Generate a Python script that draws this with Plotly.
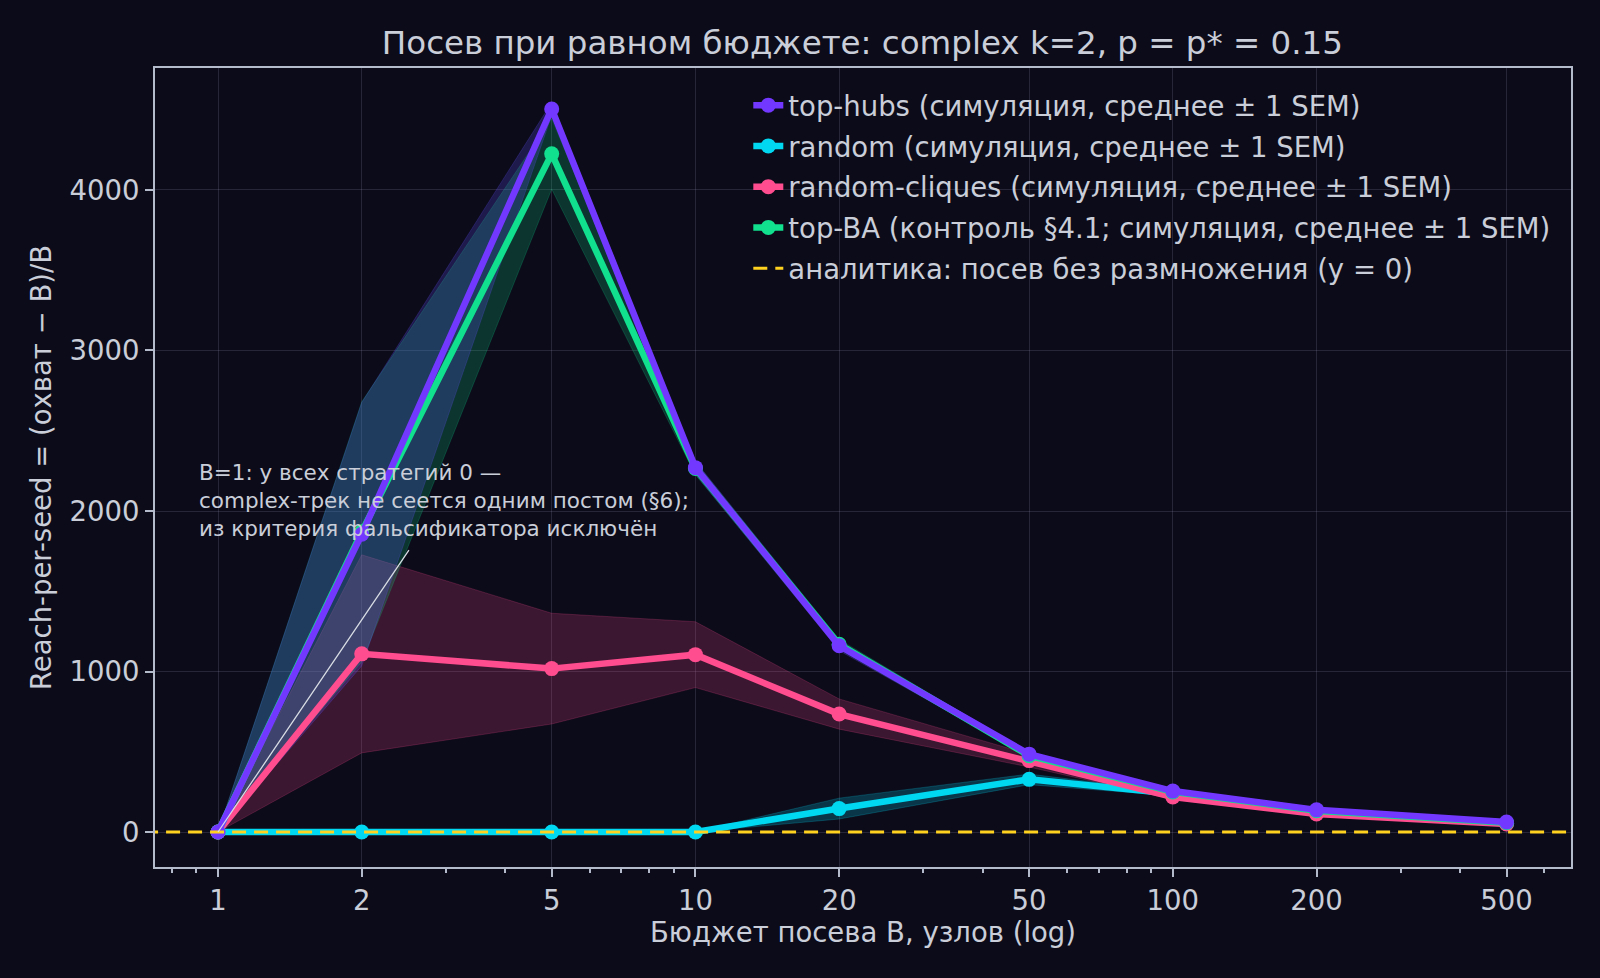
import plotly.graph_objects as go

# бюджет посева B
budget = [1, 2, 5, 10, 20, 50, 100, 200, 500]

# top-hubs
hubs_mean = [0, 1855, 4505, 2270, 1160, 485, 255, 138, 62]
hubs_sem = [0, 820, 40, 40, 30, 15, 10, 6, 3]
# random
rand_mean = [0, 0, 0, 0, 146, 328, 238, 125, 55]
rand_sem = [0, 0, 0, 0, 65, 33, 12, 6, 3]
# random-cliques
cliq_mean = [0, 1110, 1018, 1105, 735, 445, 218, 112, 50]
cliq_sem = [0, 617, 345, 205, 94, 40, 15, 8, 4]
# top-BA
ba_mean = [0, 1870, 4225, 2265, 1170, 475, 250, 133, 58]
ba_sem = [0, 810, 220, 40, 30, 15, 10, 6, 3]

x_major = [1, 2, 5, 10, 20, 50, 100, 200, 500]
x_minor = [0.8, 0.9, 3, 4, 6, 7, 8, 9, 30, 40, 60, 70, 80, 90, 300, 400, 600]
y_ticks = [0, 1000, 2000, 3000, 4000]

BG = "#0c0b1a"
AX = "#b4bccb"
TXT = "#c9ced8"
FONT = "DejaVu Sans"

series = [
    # name, mean, sem, color, fill, legend rank
    ("random (симуляция, среднее ± 1 SEM)", rand_mean, rand_sem, "#00d8f2", "rgba(0,216,242,0.22)", 2),
    ("random-cliques (симуляция, среднее ± 1 SEM)", cliq_mean, cliq_sem, "#ff4d8f", "rgba(255,77,143,0.2)", 3),
    ("top-BA (контроль §4.1; симуляция, среднее ± 1 SEM)", ba_mean, ba_sem, "#11e08e", "rgba(17,224,142,0.2)", 4),
    ("top-hubs (симуляция, среднее ± 1 SEM)", hubs_mean, hubs_sem, "#7338ff", "rgba(100,80,255,0.22)", 1),
]

fig = go.Figure()

# полосы ± 1 SEM
for name, m, s, col, fillcol, rank in series:
    upper = [a + b for a, b in zip(m, s)]
    lower = [a - b for a, b in zip(m, s)]
    fig.add_trace(go.Scatter(
        x=budget + budget[::-1], y=upper + lower[::-1],
        fill="toself", fillcolor=fillcol, line=dict(color=fillcol, width=1),
        mode="lines", showlegend=False, hoverinfo="skip",
    ))

# средние
for name, m, s, col, fillcol, rank in series:
    fig.add_trace(go.Scatter(
        x=budget, y=m, name=name, mode="lines+markers",
        line=dict(color=col, width=6.5), marker=dict(color=col, size=15),
        legendrank=rank, legendgroup=name,
    ))

fig.add_trace(go.Scatter(
    x=[0.7, 700], y=[0, 0], mode="lines",
    name="аналитика: посев без размножения (y = 0)",
    line=dict(color="#ffd21f", width=3, dash="14px,8px"),
    legendrank=5, legendgroup="analytic",
))

# подпись про B=1
fig.add_annotation(
    x=-0.044, y=2330, xref="x", yref="y", xanchor="left", yanchor="top",
    text="B=1: у всех стратегий 0 —<br>complex-трек не сеется одним постом (§6);<br>из критерия фальсификатора исключён",
    showarrow=False, align="left", font=dict(size=21.5, color=TXT, family=FONT),
)
fig.add_annotation(
    x=0, y=0, xref="x", yref="y", axref="x", ayref="y",
    ax=0.402, ay=1765, text="", showarrow=True,
    arrowhead=0, arrowwidth=1.3, arrowcolor="#d8dce4",
)

fig.update_layout(
    width=1600, height=978,
    paper_bgcolor=BG, plot_bgcolor=BG,
    margin=dict(l=155, r=29, t=68, b=111),
    font=dict(family=FONT, color=TXT, size=27),
    title=dict(text="Посев при равном бюджете: complex k=2, p = p* = 0.15",
               x=0.539, xanchor="center", y=0.956, yanchor="middle",
               font=dict(size=32.5, color=TXT)),
    legend=dict(x=0.419, y=0.984, xanchor="left", yanchor="top",
                bgcolor="rgba(0,0,0,0)", font=dict(size=27.5, color=TXT),
                tracegroupgap=2),
    showlegend=True,
)

fig.update_xaxes(
    type="log", range=[-0.132, 2.834],
    tickvals=x_major, ticktext=[str(v) for v in x_major],
    ticks="outside", ticklen=8, tickcolor=AX, tickwidth=1.5,
    minor=dict(tickvals=x_minor, ticks="outside", ticklen=4, tickcolor=AX, showgrid=False),
    showline=True, linecolor=AX, linewidth=2, mirror=True,
    showgrid=True, gridcolor="rgba(150,150,180,0.2)", gridwidth=1,
    zeroline=False,
    title=dict(text="Бюджет посева B, узлов (log)", font=dict(size=27.5, color=TXT), standoff=7),
    tickfont=dict(size=27.5, color=TXT),
)
fig.update_yaxes(
    range=[-218, 4760], tickvals=y_ticks,
    ticks="outside", ticklen=8, tickcolor=AX, tickwidth=1.5,
    showline=True, linecolor=AX, linewidth=2, mirror=True,
    showgrid=True, gridcolor="rgba(150,150,180,0.2)", gridwidth=1,
    zeroline=False,
    title=dict(text="Reach-per-seed = (охват − B)/B", font=dict(size=27.5, color=TXT), standoff=10),
    tickfont=dict(size=27.5, color=TXT),
)

fig.write_html("out.html", config={"displayModeBar": False})

# убрать отступы страницы, чтобы картинка легла ровно в окно
with open("out.html", encoding="utf-8") as f:
    page = f.read()
page = page.replace("<body>", '<body style="margin:0;background:%s;overflow:hidden">' % BG, 1)
with open("out.html", "w", encoding="utf-8") as f:
    f.write(page)
